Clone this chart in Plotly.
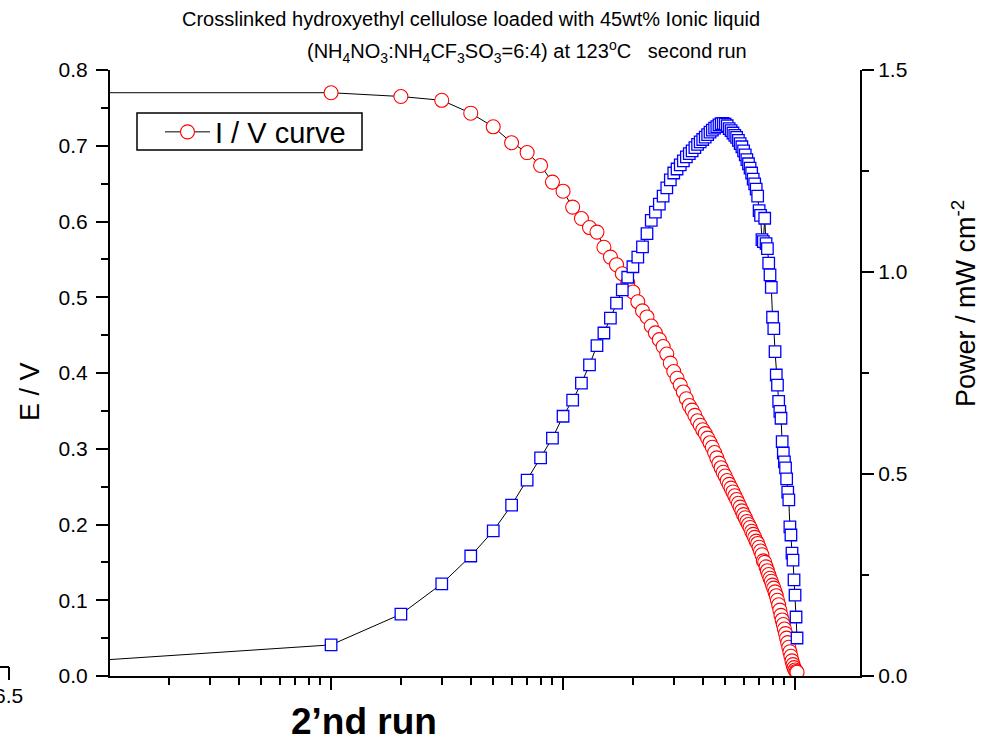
import plotly.graph_objects as go

# ---------------- data ----------------
current = [0.001,
           0.1, 0.2, 0.3, 0.4, 0.5, 0.6, 0.7, 0.8, 0.9,
           1.0, 1.1, 1.2, 1.3, 1.4, 1.5, 1.6, 1.7, 1.8, 1.9,
           2.0, 2.1, 2.2, 2.3, 2.4, 2.5, 2.6, 2.7, 2.8, 2.9,
           3.0, 3.1, 3.2, 3.3, 3.4, 3.5, 3.6, 3.7, 3.8, 3.9,
           4.0, 4.1, 4.2, 4.3, 4.4, 4.5, 4.6, 4.7, 4.8, 4.9,
           5.0, 5.1, 5.2, 5.3, 5.4, 5.5, 5.6, 5.7, 5.8, 5.9,
           6.0, 6.1, 6.2, 6.3, 6.4, 6.5, 6.6, 6.7, 6.8, 6.9,
           7.0, 7.1, 7.2, 7.3, 7.4, 7.5, 7.6, 7.7, 7.8, 7.9,
           8.0, 8.1, 8.2, 8.3, 8.4, 8.5, 8.6, 8.7, 8.8, 8.9,
           9.0, 9.1, 9.2, 9.3, 9.4, 9.5, 9.6, 9.7, 9.8, 9.9,
           10.0, 10.1, 10.2]

voltage = [0.770,
           0.770, 0.765, 0.760, 0.743, 0.725, 0.704, 0.691, 0.674, 0.652,
           0.640, 0.619, 0.604, 0.592, 0.586, 0.566, 0.553, 0.543, 0.531, 0.519,
           0.507, 0.494, 0.482, 0.474, 0.462, 0.453, 0.444, 0.435, 0.425, 0.413,
           0.402, 0.393, 0.384, 0.375, 0.366, 0.357, 0.351, 0.344, 0.337, 0.331,
           0.325, 0.320, 0.314, 0.308, 0.302, 0.295, 0.288, 0.281, 0.275, 0.269,
           0.264, 0.258, 0.253, 0.248, 0.243, 0.238, 0.233, 0.228, 0.223, 0.218,
           0.213, 0.209, 0.204, 0.200, 0.196, 0.191, 0.187, 0.183, 0.178, 0.175,
           0.170, 0.165, 0.160, 0.152, 0.150, 0.144, 0.139, 0.134, 0.129, 0.125,
           0.120, 0.116, 0.111, 0.106, 0.100, 0.094, 0.087, 0.080, 0.074, 0.068,
           0.062, 0.056, 0.050, 0.044, 0.038, 0.032, 0.026, 0.020, 0.015, 0.011,
           0.008, 0.006, 0.005]

power = [0.0008,
         0.077, 0.153, 0.228, 0.297, 0.359, 0.423, 0.485, 0.540, 0.589,
         0.643, 0.683, 0.725, 0.770, 0.818, 0.849, 0.886, 0.923, 0.956, 0.987,
         1.013, 1.037, 1.062, 1.095, 1.128, 1.148, 1.168, 1.188, 1.208, 1.228,
         1.245, 1.255, 1.265, 1.275, 1.285, 1.293, 1.300, 1.308, 1.316, 1.322,
         1.328, 1.334, 1.340, 1.346, 1.351, 1.356, 1.360, 1.364, 1.367, 1.368,
         1.366, 1.362, 1.355, 1.350, 1.344, 1.338, 1.333, 1.326, 1.318, 1.310,
         1.300, 1.290, 1.278, 1.268, 1.257, 1.245, 1.230, 1.218, 1.205, 1.188,
         1.152, 1.140, 1.080, 1.075, 1.133, 1.070, 1.058, 1.022, 0.993, 0.962,
         0.888, 0.860, 0.803, 0.745, 0.720, 0.680, 0.655, 0.638, 0.580, 0.552,
         0.530, 0.515, 0.488, 0.455, 0.436, 0.369, 0.349, 0.304, 0.287, 0.238,
         0.200, 0.146, 0.094]

x_major_ticks = [0.1, 1, 10]
x_minor_ticks = [0.02, 0.03, 0.04, 0.05, 0.06, 0.07, 0.08, 0.09,
                 0.2, 0.3, 0.4, 0.5, 0.6, 0.7, 0.8, 0.9,
                 2, 3, 4, 5, 6, 7, 8, 9]
title_line1 = "Crosslinked hydroxyethyl cellulose loaded with 45wt% Ionic liquid"
title_line2 = ("(NH<sub>4</sub>NO<sub>3</sub>:NH<sub>4</sub>CF<sub>3</sub>SO<sub>3</sub>=6:4)"
               " at 123<sup>o</sup>C&nbsp;&nbsp;&nbsp;second run")

# ---------------- layout helpers ----------------
W, H = 981, 742
L, R, T, B = 110, 860, 70, 676   # plot area in pixels
def px(x):
    return (x - L) / (R - L)
def py(y):
    return (B - y) / (B - T)

FONT = "Arial, Liberation Sans, Helvetica, sans-serif"

fig = go.Figure()
fig.add_trace(go.Scatter(
    x=current, y=voltage, mode="lines+markers", name="I / V curve",
    line=dict(color="black", width=1),
    marker=dict(symbol="circle", size=14, color="white",
                line=dict(color="red", width=1.1)),
    yaxis="y", showlegend=True))
fig.add_trace(go.Scatter(
    x=current, y=power, mode="lines+markers", name="Power",
    line=dict(color="black", width=1),
    marker=dict(symbol="square", size=11.5, color="white",
                line=dict(color="blue", width=1.3)),
    yaxis="y2", showlegend=False))

axis_common = dict(showgrid=False, zeroline=False, showline=True,
                   linecolor="black", linewidth=2, ticks="outside",
                   tickwidth=2, tickcolor="black",
                   tickfont=dict(family=FONT, size=21, color="black"))

fig.update_layout(
    width=W, height=H,
    margin=dict(l=L, r=W - R, t=T, b=H - B, pad=0),
    paper_bgcolor="white", plot_bgcolor="white",
    font=dict(family=FONT, color="black"),
    xaxis=dict(type="log", range=[-1.953, 1.280],
               tickvals=x_major_ticks, showticklabels=False,
               ticklen=12,
               minor=dict(tickvals=x_minor_ticks, ticks="outside",
                          ticklen=7, tickwidth=2, tickcolor="black"),
               **axis_common),
    yaxis=dict(range=[0, 0.8], dtick=0.1, tick0=0, tickformat=".1f",
               ticklen=12, ticklabelstandoff=4,
               minor=dict(dtick=0.05, ticks="outside", ticklen=7,
                          tickwidth=2, tickcolor="black"),
               **axis_common),
    yaxis2=dict(range=[0, 1.5], dtick=0.5, tick0=0, tickformat=".1f",
                overlaying="y", side="right", anchor="x",
                ticklen=12,
                minor=dict(dtick=0.25, ticks="outside", ticklen=7,
                           tickwidth=2, tickcolor="black"),
                **axis_common),
    legend=dict(x=px(160), y=py(132), xanchor="left", yanchor="middle",
                bgcolor="rgba(0,0,0,0)", borderwidth=0,
                font=dict(family=FONT, size=29, color="black"),
                itemwidth=45, tracegroupgap=0),
    showlegend=True,
)

ann = []
ann.append(dict(text=title_line1, x=px(471), y=py(19), xref="paper", yref="paper",
                showarrow=False, xanchor="center", yanchor="middle",
                font=dict(family=FONT, size=20, color="black")))
ann.append(dict(text=title_line2, x=px(527), y=py(52), xref="paper", yref="paper",
                showarrow=False, xanchor="center", yanchor="middle",
                font=dict(family=FONT, size=20, color="black")))
ann.append(dict(text="E / V", x=px(30), y=py(392), xref="paper", yref="paper",
                showarrow=False, textangle=-90, xanchor="center", yanchor="middle",
                font=dict(family=FONT, size=27, color="black")))
ann.append(dict(text="Power / mW cm<sup>-2</sup>", x=px(964), y=py(304),
                xref="paper", yref="paper", showarrow=False, textangle=-90,
                xanchor="center", yanchor="middle",
                font=dict(family=FONT, size=27, color="black")))
ann.append(dict(text="<b>2\u2019nd run</b>", x=px(364), y=py(721), xref="paper",
                yref="paper", showarrow=False, xanchor="center", yanchor="middle",
                font=dict(family=FONT, size=37, color="black")))
ann.append(dict(text="-6.5", x=px(25), y=py(695), xref="paper", yref="paper",
                showarrow=False, xanchor="right", yanchor="middle",
                font=dict(family=FONT, size=21, color="black")))
fig.update_layout(annotations=ann)

# legend frame
fig.add_shape(type="rect", xref="paper", yref="paper",
              x0=px(137), x1=px(362), y0=py(150), y1=py(113),
              line=dict(color="black", width=1.5), fillcolor="white",
              layer="above")
# clipped fragment at bottom-left
fig.add_shape(type="line", xref="paper", yref="paper",
              x0=px(-2), x1=px(9), y0=py(667), y1=py(667),
              line=dict(color="black", width=2))
fig.add_shape(type="line", xref="paper", yref="paper",
              x0=px(9), x1=px(9), y0=py(667), y1=py(680),
              line=dict(color="black", width=2))

fig.write_html("out.html")
